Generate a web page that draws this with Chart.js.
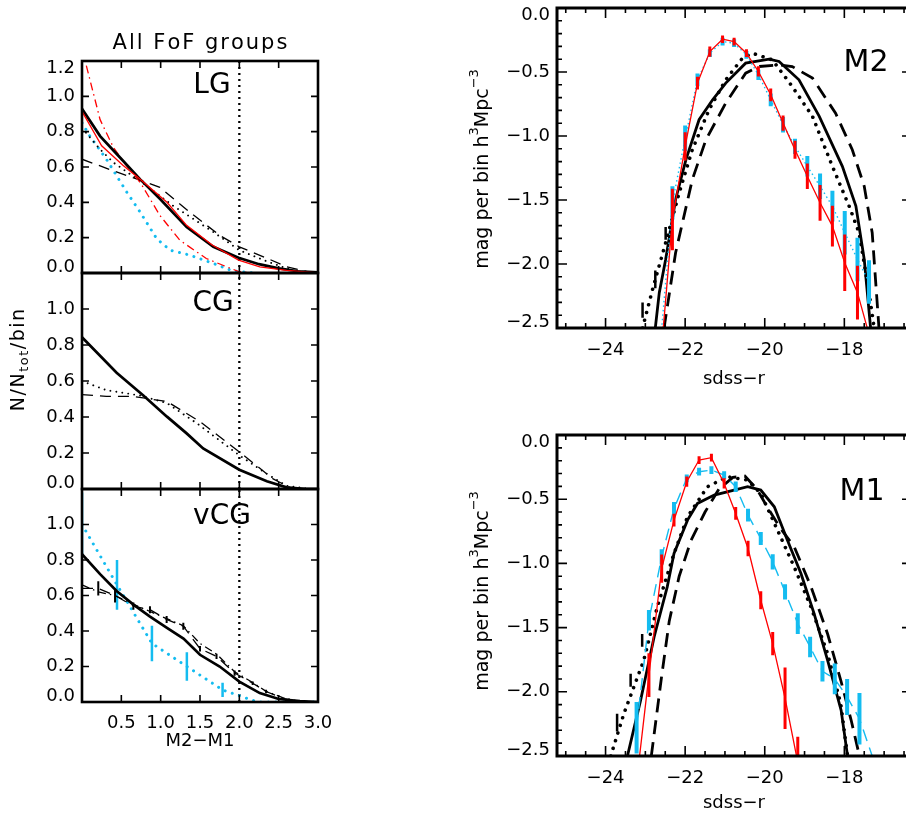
<!DOCTYPE html>
<html>
<head>
<meta charset="utf-8">
<title>All FoF groups - M2-M1 and luminosity functions</title>
<script src="https://cdn.jsdelivr.net/npm/chart.js@4.4.1/dist/chart.umd.min.js"></script>
<style>
html,body{margin:0;padding:0;background:#fff;overflow:hidden;}
#page{position:relative;width:906px;height:815px;overflow:hidden;background:#fff;}
#page canvas{position:absolute;}
</style>
</head>
<body>
<div id="page"></div>
<script>
// left column: N/Ntot/bin against M2-M1
var gapTicks=[0.5,1.0,1.5,2.0,2.5,3.0];
var fracTicks=[0.0,0.2,0.4,0.6,0.8,1.0,1.2];
var cutGap=2.0;

var lgSolidX=[0,0.23,0.48,0.74,0.99,1.33,1.67,1.99,2.25,2.5,2.75,3.0];
var lgSolidY=[0.93,0.775,0.655,0.53,0.42,0.26,0.148,0.086,0.05,0.026,0.01,0.003];
var lgRedX=[0,0.25,0.52,0.74,1.08,1.33,1.65,1.99,2.26,2.6,3.0];
var lgRedY=[0.915,0.72,0.61,0.53,0.40,0.27,0.16,0.073,0.035,0.015,0.0];
var lgRedDashDotX=[0,0.23,0.4,0.55,0.74,0.99,1.245,1.58,1.84,2.0,2.2];
var lgRedDashDotY=[1.27,0.868,0.71,0.617,0.513,0.326,0.185,0.082,0.035,0.007,0.0];
var lgDashX=[0,0.4,0.82,0.99,1.37,1.75,2.0,2.36,2.6,2.87,3.0];
var lgDashY=[0.644,0.578,0.513,0.485,0.344,0.213,0.148,0.082,0.035,0.007,0];
var lgDotX=[0,0.23,0.4,0.74,1.16,1.67,2.0,2.36,2.69,3.0];
var lgDotY=[0.82,0.70,0.625,0.52,0.38,0.232,0.129,0.064,0.012,0];
var lgCyanX=[0,0.1,0.31,0.57,0.74,0.95,1.12,1.37,1.67,1.92,2.2];
var lgCyanY=[0.85,0.775,0.644,0.457,0.344,0.194,0.129,0.101,0.054,0.011,0];

var cgSolidX=[0,0.44,0.78,1.08,1.33,1.54,2.0,2.35,2.6,2.85,3.0];
var cgSolidY=[0.843,0.646,0.519,0.402,0.309,0.225,0.107,0.043,0.009,0,0];
var cgDotX=[0,0.31,0.74,1.08,1.46,2.0,2.35,2.6,2.9];
var cgDotY=[0.599,0.549,0.519,0.477,0.365,0.187,0.084,0.018,0];
var cgDashX=[0,0.31,0.64,1.08,1.5,2.0,2.43,2.64,2.9];
var cgDashY=[0.524,0.515,0.515,0.486,0.374,0.206,0.056,0.009,0];

var vSolidX=[0,0.23,0.44,0.65,0.86,1.08,1.29,1.5,1.75,2.0,2.26,2.5,2.77,3.0];
var vSolidY=[0.833,0.72,0.625,0.55,0.483,0.418,0.357,0.266,0.2,0.115,0.05,0.017,0.005,0];
var vDashX=[0,0.207,0.42,0.653,0.864,1.076,1.288,1.5,1.71,1.94,2.17,2.34,2.55,2.8];
var vDashY=[0.64,0.64,0.6,0.54,0.52,0.465,0.427,0.3,0.257,0.163,0.106,0.059,0.021,0];
var vDashErr=[0,0.04,0.04,0.02,0.02,0.02,0.02,0.015,0.015,0.015,0.01,0.01,0,0];
var vDashDotY=[0.66,0.62,0.6,0.55,0.51,0.47,0.43,0.33,0.27,0.17,0.11,0.06,0.025,0];
var vCyanX=[0,0.445,0.889,1.333,1.787,2.23,2.68,3.0];
var vCyanY=[1.0,0.66,0.33,0.2,0.068,0.0,0.0,0.0];
var vCyanErr=[0.18,0.14,0.1,0.08,0.04,0,0,0];

// right column: luminosity functions against sdss-r
var magTicks=[-24,-22,-20,-18];
var magMinor=[-25,-24.5,-23.5,-23,-22.5,-21.5,-21,-20.5,-19.5,-19,-18.5,-17.5,-17,-16.5];
var lfTicks=[-2.5,-2.0,-1.5,-1.0,-0.5,0.0];
var lfMinor=[-2.4,-2.3,-2.2,-2.1,-1.9,-1.8,-1.7,-1.6,-1.4,-1.3,-1.2,-1.1,-0.9,-0.8,-0.7,-0.6,-0.4,-0.3,-0.2,-0.1];

var m2X=[-22.63,-22.32,-22.0,-21.69,-21.38,-21.06,-20.77,-20.46,-20.16,-19.85,-19.54,-19.24,-18.93,-18.61,-18.30,-17.99,-17.67,-17.38];
var m2RedY=[-2.8,-1.652,-1.081,-0.587,-0.340,-0.244,-0.262,-0.353,-0.496,-0.678,-0.899,-1.107,-1.315,-1.522,-1.704,-1.990,-2.224,-2.55];
var m2RedErr=[0,0.24,0.11,0.05,0.04,0.03,0.03,0.03,0.04,0.05,0.06,0.07,0.1,0.14,0.16,0.22,0.21,0];
var m2CyanY=[-2.65,-1.522,-1.018,-0.561,-0.353,-0.262,-0.275,-0.366,-0.522,-0.717,-0.912,-1.081,-1.237,-1.393,-1.548,-1.756,-1.964,-2.14];
var m2CyanErr=[0,0.13,0.1,0.05,0.03,0.03,0.03,0.03,0.04,0.05,0.06,0.06,0.08,0.1,0.12,0.17,0.17,0.17];
var m2SolidX=[-22.75,-22.65,-22.49,-22.24,-21.98,-21.65,-21.31,-20.98,-20.48,-19.89,-19.64,-19.14,-18.63,-18.05,-17.71,-17.5,-17.34];
var m2SolidY=[-2.5,-2.224,-1.964,-1.496,-1.184,-0.873,-0.717,-0.587,-0.431,-0.40,-0.418,-0.561,-0.847,-1.237,-1.548,-1.964,-2.5];
var m2DashX=[-22.53,-22.24,-21.82,-21.48,-20.98,-20.48,-20.14,-19.64,-19.31,-18.80,-18.22,-17.8,-17.5,-17.3,-17.13];
var m2DashY=[-2.5,-1.912,-1.341,-1.03,-0.743,-0.509,-0.457,-0.444,-0.457,-0.548,-0.822,-1.107,-1.393,-1.756,-2.5];
var m2DotX=[-23.07,-22.82,-22.49,-22.15,-21.82,-21.4,-20.98,-20.56,-20.31,-19.81,-19.31,-18.80,-18.30,-17.88,-17.63,-17.38,-17.25];
var m2DotY=[-2.5,-2.2,-1.834,-1.444,-1.107,-0.795,-0.561,-0.392,-0.353,-0.405,-0.613,-0.847,-1.237,-1.548,-1.756,-2.22,-2.5];
var m2BarX=[-23.07,-22.75,-22.49];
var m2BarY=[-2.36,-2.12,-1.76];
var m2BarErr=[0.06,0.07,0.05];

var m1X=[-23.22,-22.91,-22.59,-22.28,-21.96,-21.65,-21.34,-21.02,-20.73,-20.42,-20.10,-19.80,-19.49,-19.17,-18.86,-18.55,-18.24,-17.93,-17.62,-17.30];
var m1RedX=[-23.22,-22.91,-22.59,-22.28,-21.96,-21.65,-21.34,-21.02,-20.73,-20.42,-20.10,-19.80,-19.49,-19.17];
var m1RedY=[-2.7,-1.87,-1.04,-0.663,-0.364,-0.195,-0.177,-0.377,-0.611,-0.884,-1.287,-1.625,-2.05,-2.55];
var m1RedErr=[0,0.17,0.11,0.05,0.04,0.03,0.03,0.04,0.05,0.06,0.07,0.09,0.24,0.2];
var m1CyanY=[-2.28,-1.443,-0.949,-0.572,-0.338,-0.286,-0.273,-0.312,-0.403,-0.624,-0.806,-0.988,-1.222,-1.469,-1.651,-1.84,-1.9,-2.04,-2.21,-2.5];
var m1CyanErr=[0.2,0.08,0.06,0.05,0.03,0.03,0.03,0.03,0.04,0.05,0.05,0.06,0.06,0.08,0.08,0.08,0.12,0.14,0.2,0];
var m1SolidX=[-23.45,-23.12,-22.78,-22.45,-22.28,-21.94,-21.69,-21.27,-20.77,-20.43,-20.1,-19.76,-19.43,-19.09,-18.76,-18.42,-18.08,-17.92];
var m1SolidY=[-2.5,-2.067,-1.573,-1.183,-0.923,-0.663,-0.533,-0.468,-0.429,-0.403,-0.429,-0.559,-0.819,-1.079,-1.391,-1.755,-2.145,-2.5];
var m1DashX=[-22.85,-22.6,-22.4,-22.15,-21.85,-21.5,-21.15,-20.8,-20.5,-20.2,-19.9,-19.6,-19.26,-18.84,-18.42,-18.09,-17.83,-17.62];
var m1DashY=[-2.5,-1.9,-1.45,-1.1,-0.82,-0.6,-0.42,-0.33,-0.32,-0.42,-0.58,-0.73,-0.87,-1.18,-1.55,-1.91,-2.22,-2.5];
var m1DotX=[-23.87,-23.54,-23.04,-22.7,-22.28,-21.94,-21.44,-20.94,-20.43,-20.1,-19.68,-19.26,-18.84,-18.42,-18.09,-17.92];
var m1DotY=[-2.5,-2.171,-1.755,-1.339,-0.923,-0.637,-0.403,-0.325,-0.351,-0.455,-0.741,-1.027,-1.339,-1.703,-2.093,-2.5];
var m1BarX=[-23.71,-23.37,-23.08];
var m1BarY=[-2.24,-1.91,-1.6];
var m1BarErr=[0.07,0.05,0.05];

var red='rgb(255,0,0)';
var cyan='rgb(20,188,240)';
var fontname='"DejaVu Sans", sans-serif';
var panels={};

function fmtfrac(v){return v.toFixed(1);}
function fmtlf(v){return v===0?'0.0':'\u2212'+Math.abs(v).toFixed(1);}
function fmtmag(v){return '\u2212'+Math.abs(v);}

function series(xs,ys,style,errs){
  var ds={
    data:xs.map(function(x,i){return {x:x,y:ys[i]};}),
    borderColor:'#000',borderWidth:1.3,pointRadius:0,fill:false,clip:0
  };
  if(errs)ds.errors=errs;
  return Object.assign(ds,style);
}
function cutline(){
  return series([cutGap,cutGap],[0,fracTicks[fracTicks.length-1]],{borderWidth:2.3,borderDash:[2,4]});
}
var solid={borderWidth:2.7};
var thinred={borderColor:red,borderWidth:1.3};
var reddashdot={borderColor:red,borderWidth:1.3,borderDash:[8,4,1.5,4]};
var dashed={borderWidth:1.3,borderDash:[11,7]};
var dashdot={borderWidth:1.3,borderDash:[8,4,1.5,4]};
var dotted={borderWidth:1.9,borderDash:[0.01,6],borderCapStyle:'round'};
var cyandots={borderColor:cyan,borderWidth:3,borderDash:[0.01,7.5],borderCapStyle:'round',errColor:cyan,errWidth:2.5};

function richtext(ctx,parts,size,sp){
  var segs=[],w=0;
  parts.forEach(function(p){
    var s=p[1]==='n'?size:Math.round(size*0.68);
    ctx.font=s+'px '+fontname;
    var sw=0;
    for(var i=0;i<p[0].length;i++)sw+=ctx.measureText(p[0][i]).width+sp;
    segs.push({t:p[0],s:s,w:sw,dy:p[1]==='sup'?-size*0.42:(p[1]==='sub'?size*0.3:0)});
    w+=sw;
  });
  w-=sp;
  var x=-w/2;
  ctx.textAlign='left';ctx.textBaseline='middle';ctx.fillStyle='#000';
  segs.forEach(function(g){
    ctx.font=g.s+'px '+fontname;
    for(var i=0;i<g.t.length;i++){
      ctx.fillText(g.t[i],x,g.dy);
      x+=ctx.measureText(g.t[i]).width+sp;
    }
  });
}

var frameplugin={
  id:'frame',
  afterDraw:function(chart){
    var p=panels[chart.canvas.id];
    if(!p)return;
    var a=chart.chartArea,xs=chart.scales.x,ys=chart.scales.y,ctx=chart.ctx;
    ctx.save();
    ctx.strokeStyle='#000';ctx.lineWidth=p.tickw;ctx.setLineDash([]);
    ctx.beginPath();
    xs.ticks.forEach(function(t){
      var x=xs.getPixelForValue(t.value);
      ctx.moveTo(x,a.bottom);ctx.lineTo(x,a.bottom-p.major);
      ctx.moveTo(x,a.top);ctx.lineTo(x,a.top+p.major);
    });
    (p.xminor||[]).forEach(function(v){
      var x=xs.getPixelForValue(v);
      ctx.moveTo(x,a.bottom);ctx.lineTo(x,a.bottom-p.minor);
      ctx.moveTo(x,a.top);ctx.lineTo(x,a.top+p.minor);
    });
    ys.ticks.forEach(function(t){
      var y=ys.getPixelForValue(t.value);
      ctx.moveTo(a.left,y);ctx.lineTo(a.left+p.major,y);
      ctx.moveTo(a.right,y);ctx.lineTo(a.right-p.major,y);
    });
    (p.yminor||[]).forEach(function(v){
      var y=ys.getPixelForValue(v);
      ctx.moveTo(a.left,y);ctx.lineTo(a.left+p.minor,y);
      ctx.moveTo(a.right,y);ctx.lineTo(a.right-p.minor,y);
    });
    ctx.stroke();
    ctx.lineWidth=p.framew;
    ctx.strokeRect(a.left,a.top,a.right-a.left,a.bottom-a.top);
    ctx.fillStyle='#000';ctx.font='18px '+fontname;ctx.textAlign='right';ctx.textBaseline='middle';
    ys.ticks.forEach(function(t){
      if(p.skipy.indexOf(t.value)>=0)return;
      var y=ys.getPixelForValue(t.value);
      y=Math.max(a.top+7,Math.min(a.bottom-6,y));
      ctx.fillText(p.yfmt(t.value),a.left-7,y);
    });
    var ox=p.box.left-p.m.l,oy=p.box.top-p.m.t;
    p.texts.forEach(function(tx){
      ctx.save();
      ctx.translate(tx.x-ox,tx.y-oy);
      if(tx.rot)ctx.rotate(tx.rot);
      richtext(ctx,tx.parts,tx.size,tx.sp||0);
      ctx.restore();
    });
    ctx.restore();
  }
};

var errplugin={
  id:'errbars',
  afterDatasetDraw:function(chart,args){
    var ds=chart.data.datasets[args.index];
    if(!ds.errors)return;
    var a=chart.chartArea,xs=chart.scales.x,ys=chart.scales.y,ctx=chart.ctx;
    ctx.save();
    ctx.beginPath();ctx.rect(a.left,a.top,a.right-a.left,a.bottom-a.top);ctx.clip();
    ctx.strokeStyle=ds.errColor||ds.borderColor;ctx.lineWidth=ds.errWidth||2;ctx.setLineDash([]);
    ctx.beginPath();
    ds.data.forEach(function(pt,i){
      var e=ds.errors[i];
      if(!e)return;
      var x=xs.getPixelForValue(pt.x);
      ctx.moveTo(x,ys.getPixelForValue(pt.y-e));
      ctx.lineTo(x,ys.getPixelForValue(pt.y+e));
    });
    ctx.stroke();
    ctx.restore();
  }
};

function makepanel(id,box,m,cfg){
  var cv=document.createElement('canvas');
  cv.id=id;
  cv.width=box.w+m.l+m.r;cv.height=box.h+m.t+m.b;
  cv.style.left=(box.left-m.l)+'px';cv.style.top=(box.top-m.t)+'px';
  document.getElementById('page').appendChild(cv);
  panels[id]=Object.assign({box:box,m:m},cfg);
  return new Chart(cv.getContext('2d'),{
    type:'line',
    data:{datasets:cfg.datasets},
    options:{
      responsive:false,animation:false,
      layout:{padding:{top:m.t,right:m.r,left:0,bottom:0}},
      plugins:{legend:{display:false},tooltip:{enabled:false}},
      elements:{point:{radius:0},line:{tension:0}},
      scales:{
        x:{type:'linear',min:cfg.xmin,max:cfg.xmax,
          afterBuildTicks:function(s){s.ticks=cfg.xticks.map(function(v){return {value:v};});},
          afterFit:function(s){s.height=m.b;s.paddingLeft=0;s.paddingRight=0;},
          grid:{display:false,drawTicks:false},border:{display:false},
          ticks:{display:cfg.xlabels,padding:cfg.xpad||11,autoSkip:false,maxRotation:0,color:'#000',
            font:{family:fontname,size:18},callback:function(v){return cfg.xfmt(v);}}},
        y:{type:'linear',min:cfg.ymin,max:cfg.ymax,
          afterBuildTicks:function(s){s.ticks=cfg.yticks.map(function(v){return {value:v};});},
          afterFit:function(s){s.width=m.l;s.paddingTop=0;s.paddingBottom=0;},
          grid:{display:false,drawTicks:false},border:{display:false},ticks:{display:false}}
      }
    },
    plugins:[frameplugin,errplugin]
  });
}

var leftcfg={xmin:0,xmax:3,ymin:0,ymax:1.2,xticks:gapTicks,yticks:fracTicks,xfmt:fmtfrac,yfmt:fmtfrac,
  tickw:1.6,framew:2.6,major:7,minor:0};
var rightcfg={xmin:-25.22,xmax:-16.3,ymin:-2.5,ymax:0,xticks:magTicks,yticks:lfTicks,xminor:magMinor,yminor:lfMinor,
  xfmt:fmtmag,yfmt:fmtlf,tickw:1.6,framew:3,major:10,minor:5,skipy:[],xlabels:true,xpad:12};
var lfTitle=[['mag per bin h','n'],['3','sup'],['Mpc','n'],['\u22123','sup']];

makepanel('lg',{left:82,top:61,w:236,h:212},{l:82,t:40,r:24,b:10},Object.assign({},leftcfg,{
  xlabels:false,skipy:[],
  datasets:[
    series(lgRedX,lgRedY,thinred),
    series(lgSolidX,lgSolidY,solid),
    series(lgRedDashDotX,lgRedDashDotY,reddashdot),
    series(lgDashX,lgDashY,dashed),
    series(lgDotX,lgDotY,dotted),
    series(lgCyanX,lgCyanY,cyandots),
    cutline()
  ],
  texts:[
    {parts:[['All FoF groups','n']],x:200,y:44,size:21,sp:2},
    {parts:[['LG','n']],x:212,y:86,size:28}
  ]
}));

makepanel('cg',{left:82,top:273,w:236,h:216},{l:82,t:20,r:24,b:10},Object.assign({},leftcfg,{
  xlabels:false,skipy:[1.2],
  datasets:[
    series(cgSolidX,cgSolidY,solid),
    series(cgDashX,cgDashY,dashed),
    series(cgDotX,cgDotY,dotted),
    cutline()
  ],
  texts:[
    {parts:[['CG','n']],x:213,y:304,size:28},
    {parts:[['N/N','n'],['tot','sub'],['/bin','n']],x:19,y:360,size:19,sp:1.5,rot:-Math.PI/2}
  ]
}));

makepanel('vcg',{left:82,top:489,w:236,h:213},{l:82,t:20,r:24,b:64},Object.assign({},leftcfg,{
  xlabels:true,skipy:[1.2],
  datasets:[
    series(vSolidX,vSolidY,solid),
    series(vDashX,vDashY,Object.assign({errWidth:2},dashed),vDashErr),
    series(vDashX,vDashDotY,dashdot),
    series(vCyanX,vCyanY,cyandots,vCyanErr),
    cutline()
  ],
  texts:[
    {parts:[['vCG','n']],x:222,y:517,size:28},
    {parts:[['M2\u2212M1','n']],x:200,y:741,size:18}
  ]
}));

makepanel('m2',{left:557,top:8,w:355,h:320},{l:90,t:8,r:24,b:64},Object.assign({},rightcfg,{
  datasets:[
    series(m2X,m2RedY,{borderColor:red,borderWidth:1.3,errWidth:3},m2RedErr),
    series(m2X,m2CyanY,{borderColor:cyan,borderWidth:1.4,borderDash:[1.5,3],errWidth:4},m2CyanErr),
    series(m2SolidX,m2SolidY,{borderWidth:2.8}),
    series(m2DashX,m2DashY,{borderWidth:2.8,borderDash:[14,8]}),
    series(m2DotX,m2DotY,{borderWidth:3.6,borderDash:[0.01,8],borderCapStyle:'round'}),
    series(m2BarX,m2BarY,{showLine:false,errWidth:2.5},m2BarErr)
  ],
  texts:[
    {parts:[['M2','n']],x:866,y:63,size:30},
    {parts:lfTitle,x:483,y:169,size:19,rot:-Math.PI/2},
    {parts:[['sdss\u2212r','n']],x:734,y:379,size:18}
  ]
}));

makepanel('m1',{left:557,top:435,w:355,h:321},{l:90,t:8,r:24,b:64},Object.assign({},rightcfg,{
  datasets:[
    series(m1RedX,m1RedY,{borderColor:red,borderWidth:1.3,errWidth:3},m1RedErr),
    series(m1X,m1CyanY,{borderColor:cyan,borderWidth:1.4,borderDash:[12,7],errWidth:4},m1CyanErr),
    series(m1SolidX,m1SolidY,{borderWidth:2.8}),
    series(m1DashX,m1DashY,{borderWidth:2.8,borderDash:[14,8]}),
    series(m1DotX,m1DotY,{borderWidth:3.6,borderDash:[0.01,8],borderCapStyle:'round'}),
    series(m1BarX,m1BarY,{showLine:false,errWidth:2.5},m1BarErr)
  ],
  texts:[
    {parts:[['M1','n']],x:862,y:492,size:30},
    {parts:lfTitle,x:483,y:591,size:19,rot:-Math.PI/2},
    {parts:[['sdss\u2212r','n']],x:734,y:803,size:18}
  ]
}));
</script>
</body>
</html>
